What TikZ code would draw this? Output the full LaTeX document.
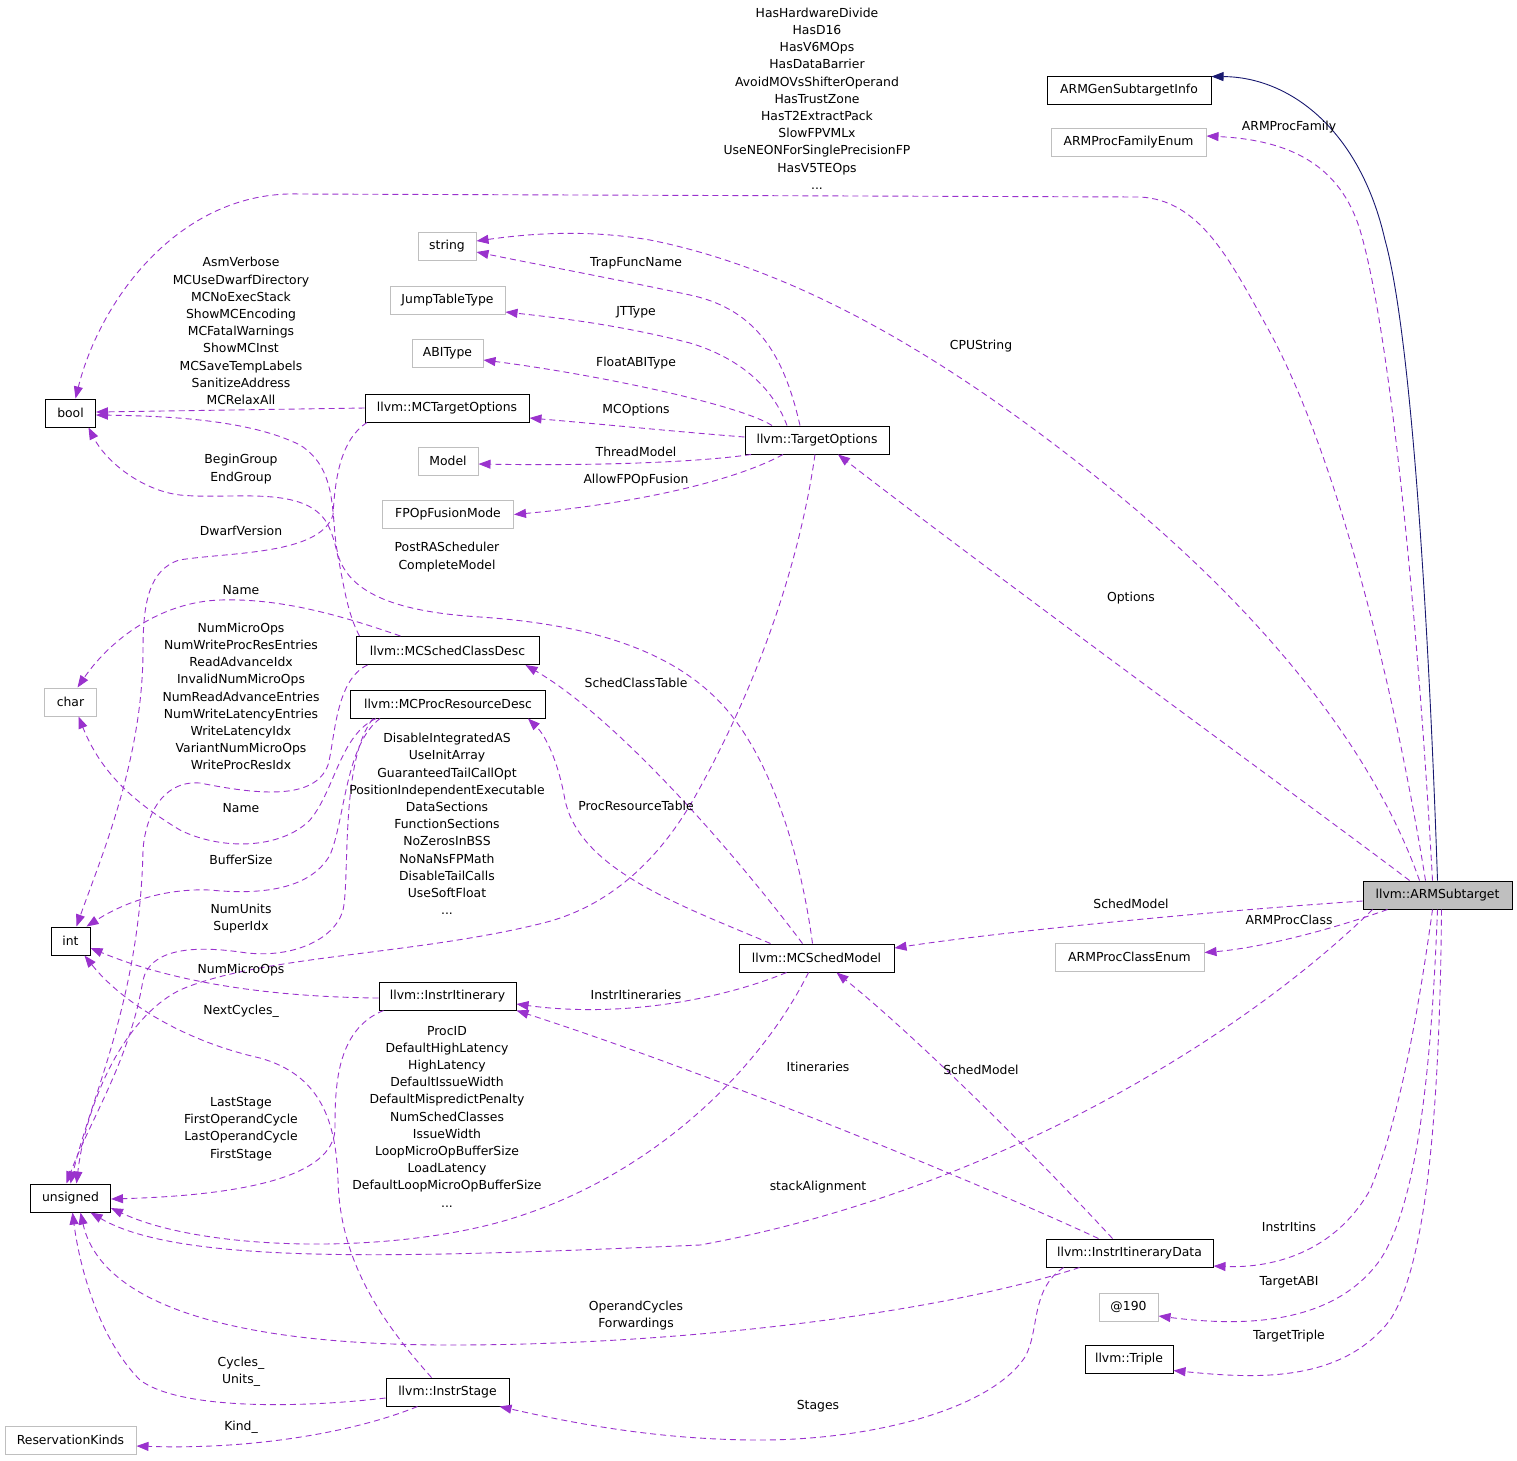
\documentclass[tikz,border=0pt]{standalone}
\usepackage{fontspec}
\setmainfont{DejaVu Sans}
\usetikzlibrary{arrows.meta}

\definecolor{usepurple}{HTML}{9A32CD}
\definecolor{inhnavy}{HTML}{191970}
\definecolor{extgrey}{HTML}{BFBFBF}

\begin{document}
\begin{tikzpicture}[x=1pt, y=-1pt,
  box/.style={draw=black, fill=white, line width=1pt, minimum height=28, inner sep=0, font=\fontsize{12.4}{15}\selectfont},
  extbox/.style={box, draw=extgrey},
  curbox/.style={box, fill=extgrey},
  lbl/.style={align=center, inner sep=0, font=\fontsize{12.4}{17.2}\selectfont},
  use/.style={-{Triangle[length=12pt,width=9pt]}, usepurple, dash pattern=on 6pt off 4pt, line width=0.9pt},
  inh/.style={-{Triangle[length=12pt,width=9pt]}, inhnavy, line width=0.9pt}
]
\useasboundingbox (0,0) rectangle (1517,1460);

% right column
\node[curbox, minimum width=149] (arm) at (1437.5,895) {llvm::ARMSubtarget};
\node[box, minimum width=164] (gsi) at (1129,90) {ARMGenSubtargetInfo};
\node[extbox, minimum width=155] (pfe) at (1128.5,142.5) {ARMProcFamilyEnum};
\node[extbox, minimum width=149] (pce) at (1129.5,957) {ARMProcClassEnum};
\node[box, minimum width=167] (iid) at (1129.5,1253) {llvm::InstrItineraryData};
\node[extbox, minimum width=59] (at190) at (1128.5,1307) {@190};
\node[box, minimum width=88] (triple) at (1129,1359.5) {llvm::Triple};

% middle column
\node[box, minimum width=144] (to) at (817,440) {llvm::TargetOptions};
\node[box, minimum width=155] (msm) at (816.5,958) {llvm::MCSchedModel};
\node[extbox, minimum width=58] (string) at (447,246.5) {string};
\node[extbox, minimum width=115] (jtt) at (447.5,300.5) {JumpTableType};
\node[extbox, minimum width=71] (abi) at (447.5,353.5) {ABIType};
\node[box, minimum width=164] (mcto) at (447,408) {llvm::MCTargetOptions};
\node[extbox, minimum width=60] (model) at (448,461) {Model};
\node[extbox, minimum width=131] (fpo) at (448,514.5) {FPOpFusionMode};
\node[box, minimum width=183] (scd) at (447.5,650.5) {llvm::MCSchedClassDesc};
\node[box, minimum width=195] (prd) at (448,704) {llvm::MCProcResourceDesc};
\node[box, minimum width=137] (ii) at (447.5,996) {llvm::InstrItinerary};
\node[box, minimum width=123] (stage) at (447.5,1392) {llvm::InstrStage};

% left column
\node[box, minimum width=50] (bool) at (70.5,413) {bool};
\node[extbox, minimum width=52] (char) at (70.5,702) {char};
\node[box, minimum width=39] (int) at (70.5,941) {int};
\node[box, minimum width=80] (unsigned) at (70.5,1198) {unsigned};
\node[extbox, minimum width=131] (rk) at (70.5,1440) {ReservationKinds};

% ARMSubtarget
\draw[inh] (arm.north) .. controls (1428,600) and (1410,330) .. (1385,240) .. controls (1360,130) and (1290,77) .. ([yshift=-1]gsi.north east);
\draw[use] ([xshift=-5]arm.north) .. controls (1418,620) and (1390,330) .. (1360,230) .. controls (1340,165) and (1290,140) .. ([yshift=6.5]pfe.east);
\draw[use] ([xshift=-12]arm.north) .. controls (1390,660) and (1330,440) .. (1267,327) .. controls (1230,260) and (1200,200) .. (1140,197) -- (300,194) .. controls (180,190) and (100,300) .. ([xshift=5]bool.north);
\draw[use] ([xshift=-18]arm.north) .. controls (1370,740) and (1250,600) .. (1100,480) .. controls (950,360) and (800,270) .. (650,240) .. controls (580,228) and (520,235) .. ([yshift=5.5]string.east);
\draw[use] ([xshift=-28]arm.north) .. controls (1330,820) and (1000,580) .. ([xshift=21]to.south);
\draw[use] ([yshift=-6]arm.west) .. controls (1200,912) and (1000,932) .. ([yshift=10]msm.east);
\draw[use] ([xshift=-50]arm.south) .. controls (1330,930) and (1260,948) .. ([yshift=4.5]pce.east);
\draw[use] ([xshift=-65]arm.south) .. controls (1250,1030) and (1000,1190) .. (700,1245) .. controls (400,1258) and (180,1265) .. ([xshift=20]unsigned.south);
\draw[use] ([xshift=-5]arm.south) .. controls (1420,1000) and (1400,1120) .. (1370,1190) .. controls (1330,1260) and (1260,1268) .. ([yshift=-13]iid.east);
\draw[use] (arm.south) .. controls (1432,1050) and (1420,1200) .. (1380,1260) .. controls (1330,1330) and (1230,1325) .. ([yshift=-9]at190.east);
\draw[use] ([xshift=4]arm.south) .. controls (1440,1080) and (1430,1260) .. (1390,1320) .. controls (1340,1385) and (1250,1378) .. ([yshift=-11]triple.east);

% TargetOptions
\draw[use] ([xshift=-17]to.north) .. controls (785,360) and (760,310) .. (690,295) .. controls (620,280) and (540,265) .. ([yshift=-5.5]string.east);
\draw[use] ([xshift=-30]to.north) .. controls (770,380) and (730,355) .. (690,343) .. controls (620,325) and (560,318) .. ([yshift=-11.5]jtt.east);
\draw[use] ([xshift=-45]to.north) .. controls (740,405) and (600,375) .. ([yshift=-6.5]abi.east);
\draw[use] ([yshift=3]to.west) .. controls (680,432) and (600,424) .. ([yshift=-10]mcto.east);
\draw[use] ([xshift=-66]to.south) .. controls (700,462) and (600,466) .. ([yshift=-3]model.east);
\draw[use] ([xshift=-34]to.south) .. controls (740,478) and (650,502) .. (fpo.east);
\draw[use] ([xshift=-2]to.south) .. controls (800,560) and (760,680) .. (697,793) .. controls (660,860) and (610,905) .. (547,922) .. controls (420,955) and (260,955) .. (180,990) .. controls (120,1020) and (85,1110) .. ([xshift=6]unsigned.north);

% MCTargetOptions
\draw[use] (mcto.west) -- ([yshift=1]bool.east);
\draw[use] ([xshift=-80]mcto.south) .. controls (340,440) and (335,480) .. (333,515) .. controls (320,555) and (230,552) .. (179,560) .. controls (150,570) and (143,600) .. (143,650) .. controls (143,760) and (100,860) .. ([xshift=6]int.north);

% MCSchedClassDesc
\draw[use] ([xshift=-88]scd.north) .. controls (340,600) and (342,545) .. (325,520) .. controls (300,485) and (230,500) .. (180,495) .. controls (140,490) and (105,460) .. ([xshift=18]bool.south);
\draw[use] ([xshift=-47]scd.north) .. controls (340,615) and (280,598) .. (220,600) .. controls (160,602) and (110,640) .. ([xshift=7]char.north);
\draw[use] ([xshift=-80]scd.south) .. controls (335,680) and (335,740) .. (328,765) .. controls (315,800) and (260,795) .. (200,783) .. controls (160,780) and (145,820) .. (143,850) .. controls (140,1000) and (90,1100) .. (unsigned.north);

% MCProcResourceDesc
\draw[use] ([xshift=-72]prd.south) .. controls (340,735) and (335,790) .. (310,820) .. controls (280,850) and (220,850) .. (180,830) .. controls (130,800) and (100,770) .. ([xshift=8]char.south);
\draw[use] ([xshift=-68]prd.south) .. controls (345,745) and (345,820) .. (330,855) .. controls (310,890) and (260,895) .. (210,890) .. controls (160,888) and (120,905) .. ([xshift=-4]int.north east);
\draw[use] ([xshift=-75]prd.south) .. controls (340,760) and (350,880) .. (343,910) .. controls (335,940) and (290,960) .. (240,952) .. controls (190,945) and (150,950) .. (143,980) .. controls (130,1060) and (90,1120) .. ([xshift=-4]unsigned.north);

% MCSchedModel
\draw[use] ([xshift=-4]msm.north) .. controls (800,850) and (770,760) .. (727,710) .. controls (680,655) and (600,625) .. (480,617) .. controls (400,612) and (350,595) .. (338,555) .. controls (330,520) and (340,470) .. (300,445) .. controls (250,420) and (170,416) .. ([yshift=-2]bool.east);
\draw[use] ([xshift=-14]msm.north) .. controls (740,860) and (620,720) .. ([xshift=78]scd.south);
\draw[use] ([xshift=-46]msm.north) .. controls (680,905) and (580,870) .. (565,800) .. controls (558,760) and (545,735) .. ([xshift=80]prd.south);
\draw[use] ([xshift=-30]msm.south) .. controls (720,1000) and (620,1018) .. ([yshift=-8]ii.east);
\draw[use] ([xshift=-8]msm.south) .. controls (760,1070) and (650,1180) .. (500,1222) .. controls (380,1255) and (200,1250) .. ([yshift=-10]unsigned.east);

% InstrItinerary
\draw[use] ([yshift=-2]ii.west) .. controls (280,997) and (180,985) .. ([yshift=-7]int.east);
\draw[use] ([xshift=-64]ii.south) .. controls (335,1030) and (335,1090) .. (335,1130) .. controls (332,1175) and (250,1195) .. ([yshift=-1]unsigned.east);

% InstrItineraryData
\draw[use] ([xshift=-17]iid.north) .. controls (1040,1160) and (920,1040) .. ([xshift=20]msm.south);
\draw[use] ([xshift=-31]iid.north) .. controls (950,1170) and (700,1070) .. (ii.south east);
\draw[use] ([xshift=-50]iid.south) .. controls (950,1310) and (700,1345) .. (450,1345) .. controls (220,1345) and (100,1300) .. ([xshift=10]unsigned.south);
\draw[use] ([xshift=-66]iid.south) .. controls (1030,1290) and (1040,1330) .. (1025,1357) .. controls (990,1410) and (870,1440) .. (760,1440) .. controls (650,1440) and (560,1420) .. ([xshift=52]stage.south);

% InstrStage
\draw[use] ([yshift=-6]stage.west) .. controls (300,1408) and (180,1410) .. (140,1380) .. controls (100,1340) and (80,1270) .. ([xshift=2]unsigned.south);
\draw[use] ([xshift=-30]stage.south) .. controls (360,1430) and (260,1450) .. ([yshift=-6]rk.east);
\draw[use] ([xshift=-16]stage.north) .. controls (380,1320) and (340,1260) .. (338,1180) .. controls (336,1120) and (320,1075) .. (260,1058) .. controls (180,1040) and (120,1000) .. ([xshift=-6]int.south east);

% labels
\node[lbl] (lhas) at (817,98.5) {HasHardwareDivide\\HasD16\\HasV6MOps\\HasDataBarrier\\AvoidMOVsShifterOperand\\HasTrustZone\\HasT2ExtractPack\\SlowFPVMLx\\UseNEONForSinglePrecisionFP\\HasV5TEOps\\...};
\node[lbl] (lfam) at (1289,127) {ARMProcFamily};
\node[lbl] (lcpu) at (981,346) {CPUString};
\node[lbl] (lopt) at (1131,598) {Options};
\node[lbl] (lsm) at (1131,904) {SchedModel};
\node[lbl] (lcls) at (1289,920) {ARMProcClass};
\node[lbl] (lstack) at (818,1187) {stackAlignment};
\node[lbl] (litins) at (1289,1227) {InstrItins};
\node[lbl] (labi) at (1289,1282) {TargetABI};
\node[lbl] (ltriple) at (1289,1336) {TargetTriple};
\node[lbl] (ltrap) at (636,263) {TrapFuncName};
\node[lbl] (ljt) at (636,312) {JTType};
\node[lbl] (lfloat) at (636,363) {FloatABIType};
\node[lbl] (lmco) at (636,410) {MCOptions};
\node[lbl] (lthread) at (636,452) {ThreadModel};
\node[lbl] (lfuse) at (636,480) {AllowFPOpFusion};
\node[lbl] (ldis) at (447,824) {DisableIntegratedAS\\UseInitArray\\GuaranteedTailCallOpt\\PositionIndependentExecutable\\DataSections\\FunctionSections\\NoZerosInBSS\\NoNaNsFPMath\\DisableTailCalls\\UseSoftFloat\\...};
\node[lbl] (lasm) at (241,331) {AsmVerbose\\MCUseDwarfDirectory\\MCNoExecStack\\ShowMCEncoding\\MCFatalWarnings\\ShowMCInst\\MCSaveTempLabels\\SanitizeAddress\\MCRelaxAll};
\node[lbl] (lgroup) at (241,469) {BeginGroup\\EndGroup};
\node[lbl] (ldwarf) at (241,531) {DwarfVersion};
\node[lbl] (lpost) at (447,557) {PostRAScheduler\\CompleteModel};
\node[lbl] (lname) at (241,590) {Name};
\node[lbl] (lnum) at (241,696.5) {NumMicroOps\\NumWriteProcResEntries\\ReadAdvanceIdx\\InvalidNumMicroOps\\NumReadAdvanceEntries\\NumWriteLatencyEntries\\WriteLatencyIdx\\VariantNumMicroOps\\WriteProcResIdx};
\node[lbl] (lsct) at (636,683) {SchedClassTable};
\node[lbl] (lprt) at (636,806) {ProcResourceTable};
\node[lbl] (lnamep) at (241,808) {Name};
\node[lbl] (lbuf) at (241,860) {BufferSize};
\node[lbl] (lunits) at (241,918.5) {NumUnits\\SuperIdx};
\node[lbl] (lnmo) at (241,970) {NumMicroOps};
\node[lbl] (lii) at (636,995) {InstrItineraries};
\node[lbl] (lnext) at (241,1011) {NextCycles\_};
\node[lbl] (lproc) at (447,1116.5) {ProcID\\DefaultHighLatency\\HighLatency\\DefaultIssueWidth\\DefaultMispredictPenalty\\NumSchedClasses\\IssueWidth\\LoopMicroOpBufferSize\\LoadLatency\\DefaultLoopMicroOpBufferSize\\...};
\node[lbl] (llast) at (241,1129) {LastStage\\FirstOperandCycle\\LastOperandCycle\\FirstStage};
\node[lbl] (litin) at (818,1067) {Itineraries};
\node[lbl] (lsm2) at (981,1070) {SchedModel};
\node[lbl] (loper) at (636,1315.5) {OperandCycles\\Forwardings};
\node[lbl] (lcyc) at (241,1371.5) {Cycles\_\\Units\_};
\node[lbl] (lstages) at (818,1406) {Stages};
\node[lbl] (lkind) at (241,1427) {Kind\_};

\end{tikzpicture}
\end{document}
